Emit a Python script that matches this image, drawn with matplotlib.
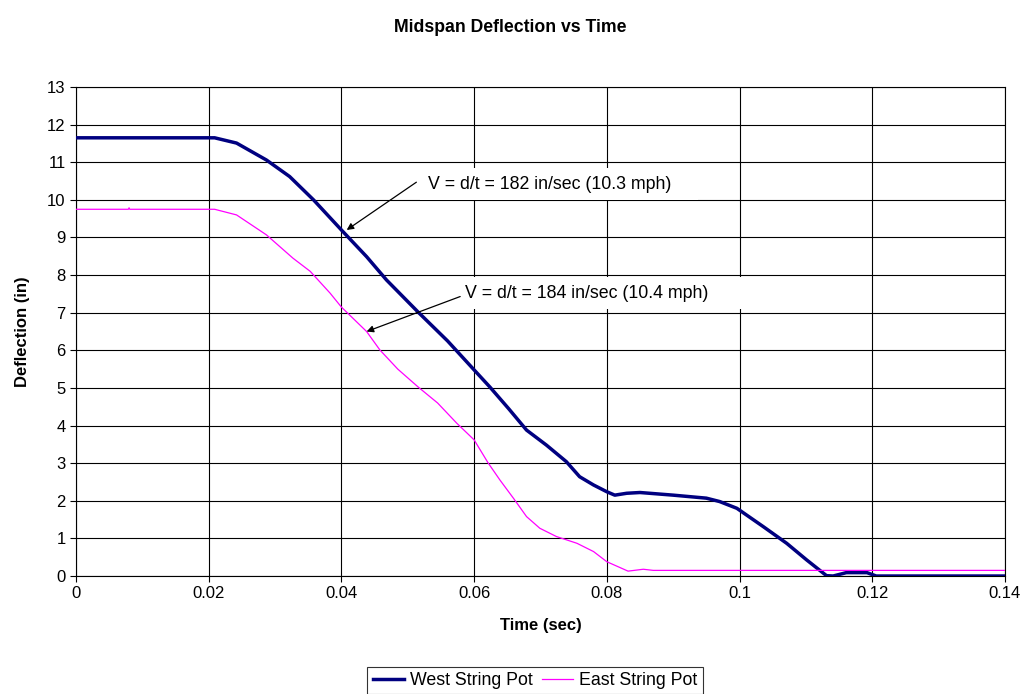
import numpy as np
import matplotlib.pyplot as plt

plt.rcParams['font.family'] = ['Liberation Sans', 'DejaVu Sans']

## data
west_t = [0, 0.0209, 0.0242, 0.0287, 0.0322, 0.0358, 0.04, 0.0438, 0.0468, 0.0516,
          0.056, 0.06, 0.0624, 0.0652, 0.0679, 0.0709, 0.0739, 0.0759, 0.078, 0.08,
          0.0812, 0.083, 0.085, 0.09, 0.095, 0.097, 0.0996, 0.1036, 0.1071, 0.1101,
          0.1131, 0.1141, 0.1161, 0.1192, 0.1206, 0.14]
west_d = [11.65, 11.65, 11.51, 11.06, 10.62, 10.0, 9.2, 8.49, 7.87, 7.01,
          6.25, 5.48, 5.02, 4.45, 3.88, 3.48, 3.04, 2.64, 2.42, 2.24,
          2.15, 2.2, 2.22, 2.15, 2.07, 1.98, 1.80, 1.31, 0.87, 0.43,
          0.01, 0.0, 0.09, 0.09, 0.0, 0.0]

east_t = [0, 0.0079, 0.008, 0.0081, 0.0209, 0.0242, 0.0287, 0.0327, 0.0353, 0.0383,
          0.04, 0.0438, 0.0458, 0.0485, 0.0516, 0.0545, 0.0574, 0.06, 0.0621, 0.0639,
          0.066, 0.0679, 0.0699, 0.0724, 0.0755, 0.078, 0.08, 0.0832, 0.0855, 0.087, 0.14]
east_d = [9.75, 9.75, 9.79, 9.75, 9.75, 9.6, 9.07, 8.45, 8.1, 7.52,
          7.15, 6.5, 6.01, 5.5, 5.02, 4.6, 4.06, 3.62, 3.01, 2.55,
          2.05, 1.58, 1.27, 1.05, 0.87, 0.65, 0.38, 0.13, 0.18, 0.15, 0.15]

x_ticks = [0, 0.02, 0.04, 0.06, 0.08, 0.1, 0.12, 0.14]
x_labels = ["0", "0.02", "0.04", "0.06", "0.08", "0.1", "0.12", "0.14"]
y_ticks = list(range(0, 14))

fig = plt.figure(figsize=(10.21, 6.94), dpi=100)
ax = fig.add_axes([0.0744, 0.170, 0.9099, 0.7046])

ax.plot(west_t, west_d, color='#000080', lw=2.5, label='West String Pot', zorder=3)
ax.plot(east_t, east_d, color='#FF00FF', lw=0.9, label='East String Pot', zorder=3)

ax.set_xlim(0, 0.14)
ax.set_ylim(0, 13)
ax.set_xticks(x_ticks)
ax.set_xticklabels(x_labels)
ax.set_yticks(y_ticks)
ax.tick_params(labelsize=12, length=4, color='black', direction='out')
ax.grid(True, color='black', lw=0.8)
ax.set_axisbelow(True)
for s in ax.spines.values():
    s.set_color('black')
    s.set_linewidth(0.8)

ax.set_xlabel("Time (sec)", fontsize=12, fontweight='bold', labelpad=12)
ax.set_ylabel("Deflection (in)", fontsize=12, fontweight='bold', labelpad=12)
fig.text(0.5, 0.961, "Midspan Deflection vs Time", ha='center', va='center',
         fontsize=12.7, fontweight='bold')

## annotations: white text boxes and arrows starting at the box's left edge
box = dict(boxstyle='square,pad=0.42', fc='white', ec='none')
arrow = dict(arrowstyle='-|>', color='black', lw=0.9, mutation_scale=10, shrinkA=0, shrinkB=0)
ax.text(0.053, 10.42, "V = d/t = 182 in/sec (10.3 mph)    ", fontsize=12.8,
        va='center', ha='left', zorder=4, bbox=box)
ax.annotate("", xy=(0.0408, 9.2), xytext=(0.0513, 10.47), arrowprops=arrow, zorder=5)
ax.text(0.0587, 7.52, "V = d/t = 184 in/sec (10.4 mph)              ", fontsize=12.8,
        va='center', ha='left', zorder=4, bbox=box)
ax.annotate("", xy=(0.0438, 6.5), xytext=(0.0579, 7.43), arrowprops=arrow, zorder=5)

leg = fig.legend(loc='upper center', bbox_to_anchor=(0.524, 0.0395), ncol=2,
                 fontsize=12.8, frameon=True, fancybox=False, edgecolor='black',
                 borderpad=0.3, borderaxespad=0, handlelength=1.75,
                 columnspacing=0.56, handletextpad=0.33)
leg.get_frame().set_linewidth(0.8)

plt.savefig("out.png", dpi=100)
